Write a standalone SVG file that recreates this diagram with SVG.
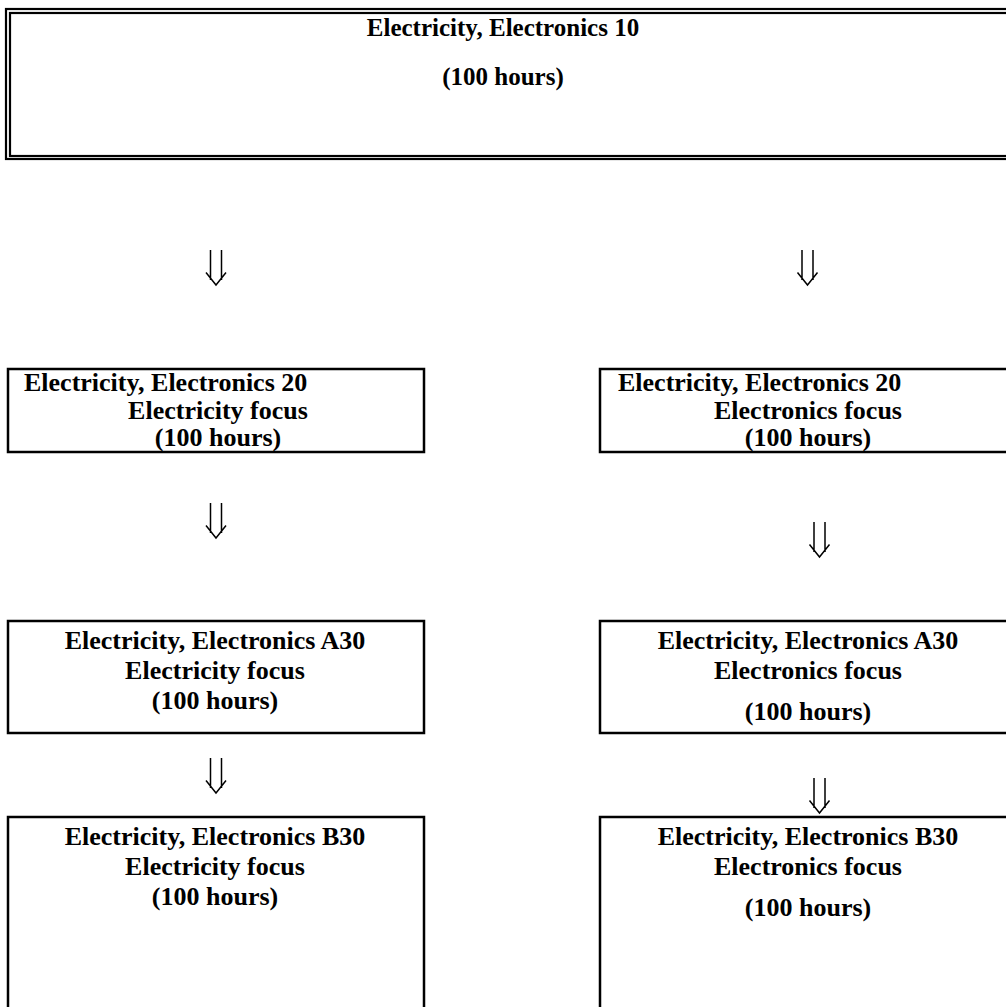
<svg xmlns="http://www.w3.org/2000/svg" width="1006" height="1007" viewBox="0 0 1006 1007">
<style>
.box{fill:#fff;stroke:#000;stroke-width:2.5}
.dbl{fill:none;stroke:#000;stroke-width:2.2}
text{font-family:"Liberation Serif","Times New Roman",serif;font-weight:bold;font-size:26px;fill:#000}
.t{font-size:25px}
.c{text-anchor:middle}
.arr{fill:none;stroke:#000;stroke-width:1.5}
</style>
<rect width="1006" height="1007" fill="#fff"/>
<g id="n10">
<rect class="dbl" x="6" y="9" width="1010" height="150"/>
<rect class="dbl" x="10" y="13" width="1010" height="143"/>
<text class="c t" x="503" y="36">Electricity, Electronics 10</text>
<text class="c t" x="503" y="85">(100 hours)</text>
</g>
<g id="n20a">
<rect class="box" x="8" y="369" width="416" height="83"/>
<text x="24" y="391">Electricity, Electronics 20</text>
<text class="c" x="218" y="419">Electricity focus</text>
<text class="c" x="218" y="446">(100 hours)</text>
</g>
<g id="n20b">
<rect class="box" x="600" y="369" width="420" height="83"/>
<text x="618" y="391">Electricity, Electronics 20</text>
<text class="c" x="808" y="419">Electronics focus</text>
<text class="c" x="808" y="446">(100 hours)</text>
</g>
<g id="na30a">
<rect class="box" x="8" y="621" width="416" height="112"/>
<text class="c" x="215" y="649">Electricity, Electronics A30</text>
<text class="c" x="215" y="679">Electricity focus</text>
<text class="c" x="215" y="709">(100 hours)</text>
</g>
<g id="na30b">
<rect class="box" x="600" y="621" width="420" height="112"/>
<text class="c" x="808" y="649">Electricity, Electronics A30</text>
<text class="c" x="808" y="679">Electronics focus</text>
<text class="c" x="808" y="720">(100 hours)</text>
</g>
<g id="nb30a">
<rect class="box" x="8" y="817" width="416" height="200"/>
<text class="c" x="215" y="845">Electricity, Electronics B30</text>
<text class="c" x="215" y="875">Electricity focus</text>
<text class="c" x="215" y="905">(100 hours)</text>
</g>
<g id="nb30b">
<rect class="box" x="600" y="817" width="420" height="200"/>
<text class="c" x="808" y="845">Electricity, Electronics B30</text>
<text class="c" x="808" y="875">Electronics focus</text>
<text class="c" x="808" y="916">(100 hours)</text>
</g>
<g id="connectors">
<path class="arr" d="M210.5,250V280M221.5,250V280M206,272.5L216,285L226,272.5"/>
<path class="arr" d="M210.5,503V533M221.5,503V533M206,525.5L216,538L226,525.5"/>
<path class="arr" d="M210.5,758V788M221.5,758V788M206,780.5L216,793L226,780.5"/>
<path class="arr" d="M802,250V280M813,250V280M797.5,272.5L807.5,285L817.5,272.5"/>
<path class="arr" d="M814,522V552M825,522V552M809.5,544.5L819.5,557L829.5,544.5"/>
<path class="arr" d="M814,778V808M825,778V808M809.5,800.5L819.5,813L829.5,800.5"/>
</g>
</svg>
